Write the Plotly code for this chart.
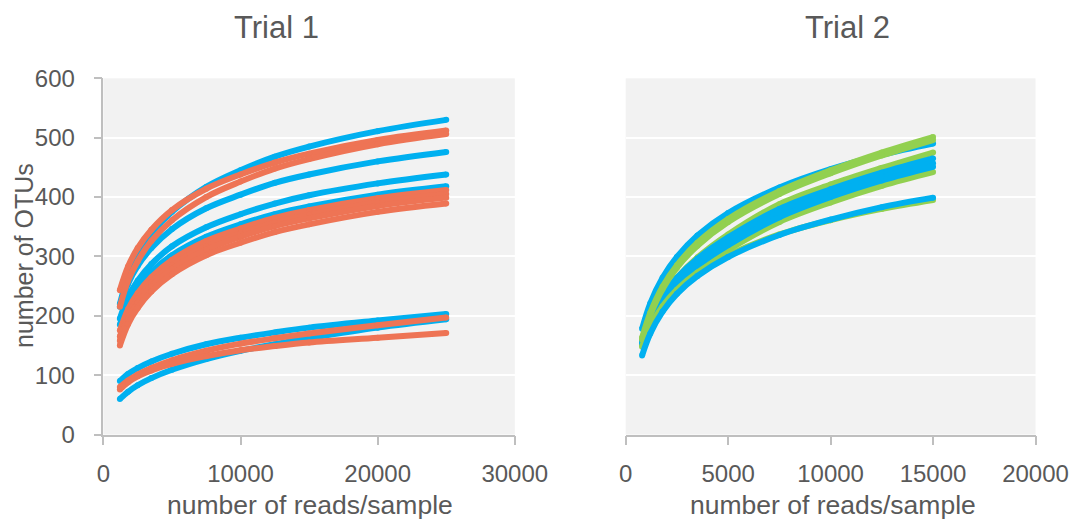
import plotly.graph_objects as go

# Rarefaction curves: observed OTUs versus sequencing depth
t1_reads = [1200, 1800, 2500, 3500, 5000, 7500, 10000, 12500, 15000, 20000, 25000]
t2_reads = [800, 1200, 1800, 2500, 3500, 5000, 7500, 10000, 12500, 15000]

# Trial 1, blue samples
t1_blue = [
    [220, 267, 302, 338, 375, 417, 445, 468, 485, 511, 530],
    [215, 254, 284, 314, 346, 381, 404, 424, 438, 460, 476],
    [195, 232, 259, 287, 317, 349, 371, 389, 403, 423, 438],
    [185, 220, 247, 274, 302, 333, 354, 371, 384, 404, 418],
    [90, 102, 112, 123, 136, 152, 163, 172, 180, 192, 203],
    [60, 72, 83, 95, 109, 127, 141, 152, 162, 180, 194],
]
# Trial 1, orange samples
t1_orange = [
    [243, 283, 314, 345, 378, 414, 438, 458, 473, 496, 512],
    [215, 259, 292, 326, 361, 400, 426, 448, 464, 489, 506],
    [175, 211, 238, 265, 294, 326, 347, 365, 378, 398, 412],
    [165, 201, 229, 256, 285, 317, 339, 357, 370, 391, 405],
    [158, 194, 222, 250, 279, 311, 333, 351, 364, 385, 399],
    [150, 186, 213, 241, 270, 302, 323, 341, 354, 375, 389],
    [80, 91, 101, 112, 125, 141, 153, 162, 170, 184, 197],
    [76, 88, 98, 108, 119, 132, 142, 149, 155, 163, 171],
]
# Trial 2, blue samples
t2_blue_top = [178, 221, 264, 299, 335, 373, 416, 447, 471, 490]
t2_blue_mid = [
    [160, 196, 234, 264, 296, 332, 380, 413, 441, 465],
    [156, 191, 228, 258, 290, 325, 373, 406, 434, 457],
    [153, 187, 223, 252, 284, 319, 366, 400, 428, 451],
]
t2_blue_low = [133, 170, 207, 237, 267, 299, 336, 362, 383, 399]
# Trial 2, green samples
t2_green_top = [
    [163, 205, 249, 285, 323, 363, 410, 445, 475, 501],
    [160, 201, 245, 281, 318, 358, 405, 440, 470, 496],
]
t2_green_mid = [
    [155, 193, 232, 264, 298, 337, 388, 421, 449, 475],
    [150, 182, 217, 246, 277, 311, 358, 391, 419, 442],
]
t2_green_low = [148, 182, 216, 244, 273, 302, 337, 361, 380, 395]

BLUE = "#00b0f0"
ORANGE = "#ee7455"
GREEN = "#92d050"
TEXT = "#595959"
AXIS = "#bfbfbf"
FONT = "Liberation Sans, Arial, sans-serif"
LW = 6

W, H = 1078, 520

fig = go.Figure()


def add_curve(x, y, color, xa, ya):
    fig.add_trace(go.Scatter(
        x=x, y=y, mode="lines+markers",
        line=dict(color=color, width=LW, shape="spline", smoothing=1.0),
        marker=dict(color=color, size=LW, line=dict(width=0)),
        xaxis=xa, yaxis=ya, showlegend=False, hoverinfo="skip",
    ))


for ys in t1_blue:
    add_curve(t1_reads, ys, BLUE, "x", "y")
for ys in t1_orange:
    add_curve(t1_reads, ys, ORANGE, "x", "y")

# Trial 2 drawing order sets which colour sits on top in each bundle
add_curve(t2_reads, t2_blue_top, BLUE, "x2", "y2")
for ys in t2_green_mid:
    add_curve(t2_reads, ys, GREEN, "x2", "y2")
for ys in t2_blue_mid:
    add_curve(t2_reads, ys, BLUE, "x2", "y2")
for ys in t2_green_top:
    add_curve(t2_reads, ys, GREEN, "x2", "y2")
add_curve(t2_reads, t2_green_low, GREEN, "x2", "y2")
add_curve(t2_reads, t2_blue_low, BLUE, "x2", "y2")


def px_x(px):
    return px / W


def px_y(py):
    return 1 - py / H


y_dom = [px_y(434.5), px_y(78.3)]
tickfont = dict(family=FONT, size=24, color=TEXT)

xcommon = dict(
    showgrid=False, zeroline=False, showline=True, linecolor=AXIS, linewidth=1.5,
    ticks="outside", ticklen=9, tickcolor=AXIS, tickwidth=1.5, tickformat="d",
    tickfont=tickfont, ticklabelstandoff=8, fixedrange=True, automargin=False,
)
ycommon = dict(
    range=[0, 600], dtick=100, showgrid=True, gridcolor="white", gridwidth=2,
    zeroline=False, fixedrange=True, automargin=False,
)

fig.update_layout(
    width=W, height=H, autosize=False,
    margin=dict(l=0, r=0, t=0, b=0, autoexpand=False),
    paper_bgcolor="white", plot_bgcolor="#f2f2f2",
    xaxis=dict(domain=[px_x(103.4), px_x(514.8)], range=[0, 30000], dtick=10000,
               anchor="y", **xcommon),
    yaxis=dict(domain=y_dom, anchor="x", showline=True, linecolor=AXIS, linewidth=1.5,
               ticks="outside", ticklen=8, tickcolor=AXIS, tickwidth=1.5,
               tickfont=tickfont, ticklabelstandoff=14, **ycommon),
    xaxis2=dict(domain=[px_x(625.7), px_x(1035.5)], range=[0, 20000], dtick=5000,
                anchor="y2", **xcommon),
    yaxis2=dict(domain=y_dom, anchor="x2", showline=False, ticks="",
                showticklabels=False, **ycommon),
)

titles = [
    ("Trial 1", 276, 27, 31, 0),
    ("Trial 2", 847, 27, 31, 0),
    ("number of reads/sample", 310, 505, 26.5, 0),
    ("number of reads/sample", 833, 505, 26.5, 0),
    ("number of OTUs", 24, 256, 25, -90),
]
for text, x, y, size, angle in titles:
    fig.add_annotation(
        text=text, x=px_x(x), y=px_y(y), xref="paper", yref="paper",
        xanchor="center", yanchor="middle", showarrow=False, textangle=angle,
        font=dict(family=FONT, size=size, color=TEXT),
    )

fig.write_html("out.html")
